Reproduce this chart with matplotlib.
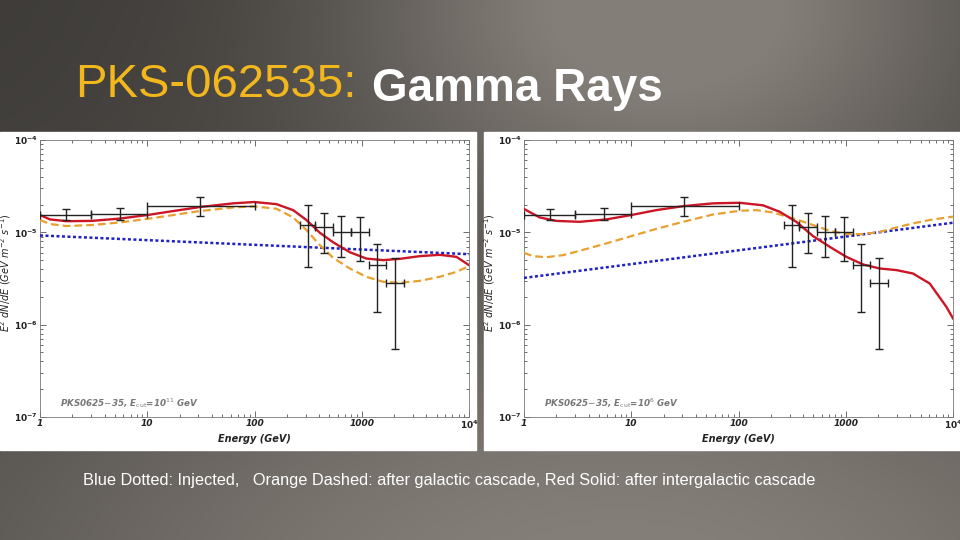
import numpy as np
import matplotlib
matplotlib.use("Agg")
import matplotlib.pyplot as plt
from matplotlib.ticker import LogLocator, NullFormatter, FixedLocator

# data points (same in both panels)
pt_E = [1.73, 5.56, 31.0, 318, 443, 641, 955, 1400, 2060]
pt_Elo = [1.0, 3.0, 10.0, 265, 370, 540, 790, 1170, 1700]
pt_Ehi = [3.0, 10.0, 100.0, 370, 540, 790, 1170, 1700, 2460]
pt_F = [1.56e-5, 1.57e-5, 1.92e-5, 1.19e-5, 1.13e-5, 9.97e-6, 1.0e-5, 4.45e-6, 2.82e-6]
pt_Flo = [1.36e-5, 1.36e-5, 1.49e-5, 4.24e-6, 6.0e-6, 5.37e-6, 4.87e-6, 1.38e-6, 5.5e-7]
pt_Fhi = [1.77e-5, 1.85e-5, 2.39e-5, 1.96e-5, 1.63e-5, 1.5e-5, 1.45e-5, 7.4e-6, 5.21e-6]

# left panel, E_cut = 1e11 GeV
L_logE = [0, 0.093, 0.248, 0.481, 0.745, 1.003, 1.242, 1.491, 1.801, 1.997, 2.205, 2.360,
          2.484, 2.609, 2.733, 2.888, 3.043, 3.199, 3.354, 3.540, 3.727, 3.882, 4.0]
L_red = [1.54e-5, 1.38e-5, 1.32e-5, 1.33e-5, 1.41e-5, 1.54e-5, 1.70e-5, 1.88e-5, 2.06e-5, 2.13e-5,
         2.02e-5, 1.74e-5, 1.36e-5, 9.9e-6, 7.8e-6, 6.1e-6, 5.2e-6, 5.0e-6, 5.16e-6, 5.52e-6,
         5.71e-6, 5.43e-6, 4.41e-6]
L_orange = [1.36e-5, 1.23e-5, 1.17e-5, 1.20e-5, 1.28e-5, 1.40e-5, 1.54e-5, 1.70e-5, 1.86e-5, 1.91e-5,
            1.80e-5, 1.45e-5, 1.06e-5, 7.27e-6, 5.30e-6, 4.06e-6, 3.30e-6, 2.91e-6, 2.84e-6, 2.98e-6,
            3.30e-6, 3.73e-6, 4.31e-6]
L_blue_E = [1, 1e4]
L_blue = [9.25e-6, 5.8e-6]

# right panel, E_cut = 1e6 GeV
R_red_logE = [0, 0.146, 0.301, 0.519, 0.768, 1.001, 1.234, 1.483, 1.762, 2.011, 2.229, 2.384,
              2.539, 2.695, 2.850, 3.005, 3.161, 3.316, 3.472, 3.627, 3.783, 3.938, 4.0]
R_red = [1.79e-5, 1.45e-5, 1.33e-5, 1.30e-5, 1.38e-5, 1.54e-5, 1.74e-5, 1.92e-5, 2.06e-5, 2.09e-5,
         1.96e-5, 1.67e-5, 1.30e-5, 9.1e-6, 6.98e-6, 5.43e-6, 4.49e-6, 4.06e-6, 3.90e-6, 3.58e-6,
         2.79e-6, 1.56e-6, 1.17e-6]
R_orange_logE = [0, 0.084, 0.208, 0.364, 0.519, 0.768, 1.001, 1.234, 1.483, 1.762, 2.011, 2.166,
                 2.322, 2.539, 2.695, 2.850, 3.005, 3.161, 3.316, 3.472, 3.627, 3.783, 4.0]
R_orange = [6.0e-6, 5.52e-6, 5.38e-6, 5.66e-6, 6.31e-6, 7.59e-6, 9.1e-6, 1.09e-5, 1.30e-5, 1.56e-5,
            1.71e-5, 1.74e-5, 1.64e-5, 1.38e-5, 1.20e-5, 1.04e-5, 9.57e-6, 9.57e-6, 1.01e-5, 1.13e-5,
            1.25e-5, 1.36e-5, 1.48e-5]
R_blue_E = [1, 1e4]
R_blue = [3.21e-6, 1.27e-5]

W, H = 960, 540
fig = plt.figure(figsize=(9.6, 5.4), dpi=100)

# slide background: dark grey with a light spot at the top and a lighter bottom
bg = fig.add_axes([0, 0, 1, 1], zorder=-5)
yy, xx = np.mgrid[0:H, 0:W].astype(float)
w_top = np.exp(-((xx - 667) ** 2 + (yy * 1.6) ** 2) / (2 * 230.0 ** 2))
w_bot = np.exp(-((xx - 620) ** 2 / (2 * 520.0 ** 2) + (yy - 580) ** 2 / (2 * 230.0 ** 2)))
w = np.clip(0.08 + w_top + 0.95 * w_bot, 0, 1)
dark = np.array([0x36, 0x34, 0x31]) / 255.0
light = np.array([0x84, 0x7e, 0x78]) / 255.0
img = dark[None, None, :] * (1 - w[..., None]) + light[None, None, :] * w[..., None]
bg.imshow(img, extent=[0, W, H, 0], aspect='auto')
bg.set_xlim(0, W)
bg.set_ylim(H, 0)
bg.axis('off')

# white panels
bg.add_patch(plt.Rectangle((0, 132), 476, 318, color='white', zorder=2))
bg.add_patch(plt.Rectangle((484, 132), 476, 318, color='white', zorder=2))

fig.text(75 / W, 1 - 97 / H, "PKS-062535:", color='#f2b71c', fontsize=34,
         family='Liberation Sans', va='baseline', ha='left')
fig.text(372 / W, 1 - 101 / H, "Gamma Rays", color='white', fontsize=33, fontweight='bold',
         family='Liberation Sans', va='baseline', ha='left')
fig.text(83 / W, 1 - 480 / H,
         "Blue Dotted: Injected,   Orange Dashed: after galactic cascade, Red Solid: after intergalactic cascade",
         color='white', fontsize=11.8, family='Liberation Sans',
         va='center', ha='left')


def draw_panel(rect, red_E, red_F, or_E, or_F, bl_E, bl_F, ecut):
    ax = fig.add_axes(rect)
    ax.set_xscale('log')
    ax.set_yscale('log')
    ax.plot(bl_E, bl_F, color='#2020c8', lw=1.8, ls=(0, (1.2, 1.0)), zorder=3)
    ax.plot(or_E, or_F, color='#e8a030', lw=1.6, ls=(0, (3.5, 1.8)), zorder=4)
    ax.plot(red_E, red_F, color='#cc1525', lw=1.7, zorder=5)
    E = np.array(pt_E)
    F = np.array(pt_F)
    xerr = [E - np.array(pt_Elo), np.array(pt_Ehi) - E]
    yerr = [F - np.array(pt_Flo), np.array(pt_Fhi) - F]
    ax.errorbar(E, F, xerr=xerr, yerr=yerr, fmt='none', ecolor='#222222',
                elinewidth=1.0, capsize=3, capthick=1.0, zorder=6)
    ax.set_xlim(1, 1e4)
    ax.set_ylim(1e-7, 1e-4)
    ax.xaxis.set_major_locator(FixedLocator([1, 10, 100, 1000, 1e4]))
    ax.set_xticklabels(['1', '10', '100', '1000', r'$\mathbf{10^4}$'])
    ax.yaxis.set_major_locator(FixedLocator([1e-7, 1e-6, 1e-5, 1e-4]))
    ax.set_yticklabels([r'$\mathbf{10^{-7}}$', r'$\mathbf{10^{-6}}$',
                        r'$\mathbf{10^{-5}}$', r'$\mathbf{10^{-4}}$'])
    ax.xaxis.set_minor_locator(LogLocator(base=10, subs=np.arange(2, 10)))
    ax.yaxis.set_minor_locator(LogLocator(base=10, subs=np.arange(2, 10)))
    ax.xaxis.set_minor_formatter(NullFormatter())
    ax.yaxis.set_minor_formatter(NullFormatter())
    ax.tick_params(which='both', direction='in', top=True, right=True, labelsize=6.5,
                   color='#555555', labelcolor='#222222', width=0.6, pad=1.5)
    ax.tick_params(which='major', length=4)
    ax.tick_params(which='minor', length=2)
    for lab in ax.get_xticklabels() + ax.get_yticklabels():
        lab.set_fontweight('bold')
        lab.set_style('italic')
    for s in ax.spines.values():
        s.set_color('#777777')
        s.set_linewidth(0.6)
    ax.set_xlabel('Energy (GeV)', fontsize=7, fontweight='bold', style='italic',
                  color='#222222', labelpad=2)
    ax.set_ylabel(r'$\mathbf{\mathit{E^2\ dN/dE\ (GeV\ m^{-2}\ s^{-1})}}$', fontsize=7,
                  color='#222222')
    ax.yaxis.set_label_coords(-0.062, 0.52)
    ax.text(0.047, 0.05, r'PKS0625$-$35, E$_{\mathrm{cut}}$=10$^{%s}$ GeV' % ecut,
            transform=ax.transAxes, fontsize=6.3, color='#777777', fontweight='bold',
            style='italic', va='center')
    return ax


rect_l = [40 / W, 1 - 417 / H, 429 / W, 277 / H]
rect_r = [524 / W, 1 - 417 / H, 429 / W, 277 / H]
draw_panel(rect_l, 10 ** np.array(L_logE), L_red, 10 ** np.array(L_logE), L_orange,
           L_blue_E, L_blue, '11')
draw_panel(rect_r, 10 ** np.array(R_red_logE), R_red, 10 ** np.array(R_orange_logE), R_orange,
           R_blue_E, R_blue, '6')

fig.savefig('out.png', dpi=100)
